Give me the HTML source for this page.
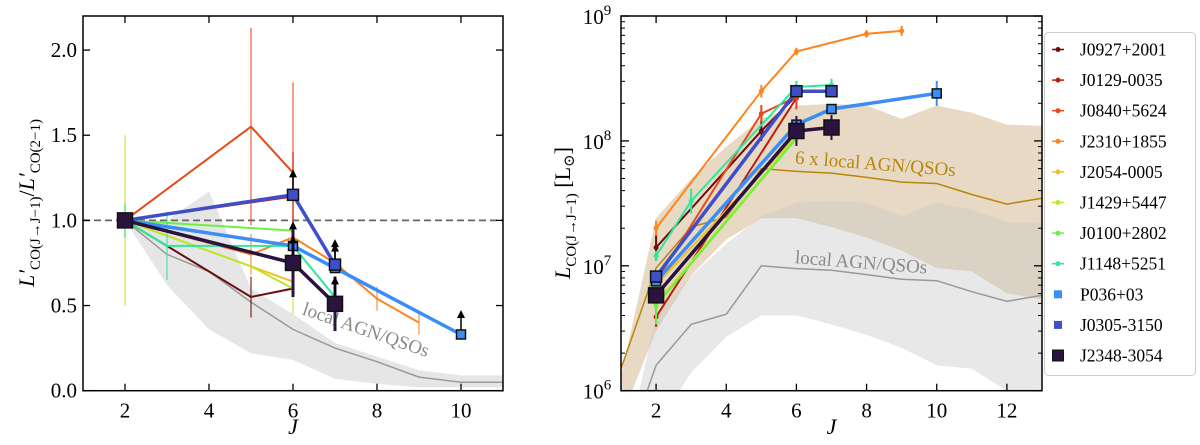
<!DOCTYPE html>
<html><head><meta charset="utf-8">
<style>
html,body{margin:0;padding:0;background:#fff;width:1200px;height:445px;overflow:hidden;}
svg{display:block;}
svg text{font-family:"Liberation Serif","Times New Roman",Times,"DejaVu Serif",serif;}
</style></head>
<body>
<svg id="fig" width="1200" height="445" viewBox="0 0 1200 445" xmlns="http://www.w3.org/2000/svg">
<g id="L"></g>
<g id="R"></g>
<g id="leg"></g>
</svg>
<script>
// ---------- data ----------
const names = ["J0927+2001","J0129-0035","J0840+5624","J2310+1855","J2054-0005","J1429+5447","J0100+2802","J1148+5251","P036+03","J0305-3150","J2348-3054"];
const colors = ["#6b0d0d","#b81e0e","#e8491c","#ff841c","#f2c026","#b8e82c","#6cf043","#2ee89a","#3a8ef5","#3f4fc8","#2b1340"];
const markers = ["dot","dot","dot","dot","dot","dot","dot","dot","sq","sq","sq"];
const msize = [4,4,4,4,4,4,4,4,9,11,15];
const lw = [2,2,2,2,2,2,2,2,3.5,3.5,3.5];

// left panel: ratio data
const ratioJ = [[2,5,6],[2,6],[2,5,6],[2,5,6,7,8,9],[2,6],[2,5,6],[2,6],[2,3,6,7],[2,6,7,10],[2,6,7],[2,6,7]];
const ratioV = [[1,0.55,0.60],[1,1.14],[1,1.55,1.28],[1,0.80,0.90,0.75,0.54,0.40],[1,0.64],[1,0.73,0.60],[1,0.94],[1,0.85,0.85,0.55],[1,0.85,0.72,0.33],[1,1.15,0.74],[1,0.75,0.51]];
const ratioErr = [[0,0.12,0],[0,0.26,0],[0,0.58,0.53],[0,0.12,0.08,0.06,0.07,0.07],[0,0],[0.5,0,0.15],[0,0],[0.1,0.2,0.1,0.05],[0,0,0,0],[0,0,0],[0,0.2,0.16]];
const ratioLim = [[0,0,0],[0,0],[0,0,0],[0,0,0,0,0,0],[0,0],[0,0,0],[0,0],[0,0,0,0],[0,1,1,1],[0,1,1],[0,1,1]];
const bandLJ = [2,3,4,5,6,7,8,9,10,11];
const bandLMid = [1,0.8,0.7,0.52,0.36,0.25,0.17,0.08,0.05,0.05];
const bandLHi = [1,1.0,1.17,0.6,0.45,0.28,0.2,0.12,0.09,0.09];
const bandLLo = [1,0.62,0.36,0.22,0.18,0.07,0.04,0.02,0.02,0.02];

// right panel: luminosities
const lumJ = [[2,5,6],[2,6],[2,5,6],[2,5,6,8,9],[2,6],[2,6],[2,6],[2,3,6,7],[2,6,7,10],[2,6,7],[2,6,7]];
const lumV = [[1.4e7,1.2e8,2.3e8],[3.9e6,2.2e8],[7.5e6,1.65e8,2.25e8],[2.0e7,2.5e8,5.2e8,7.2e8,7.6e8],[7.0e6,1.1e8],[5.0e6,1.08e8],[4.8e6,1.05e8],[1.2e7,3.3e7,2.7e8,2.8e8],[7.5e6,1.35e8,1.8e8,2.4e8],[8.2e6,2.5e8,2.5e8],[5.8e6,1.2e8,1.28e8]];
const lumErr = [[0.1,0.08,0],[0.08,0.08],[0,0.07,0.1],[0.06,0.05,0.03,0.03,0.04],[0,0],[0,0],[0.15,0.05],[0.04,0.1,0.05,0.05],[0,0,0,0.1],[0,0,0],[0,0.12,0.1]];
const localJ = [1,2,3,4,5,6,7,8,9,10,11,12,13];
const localMid = [2.5e5,1.6e6,3.4e6,4.1e6,1.0e7,9.5e6,9.2e6,8.5e6,7.8e6,7.6e6,6.2e6,5.2e6,5.8e6];
const localHi = [2.2e5,4e6,8.3e6,1.5e7,2.5e7,3.2e7,3.3e7,3.2e7,2.5e7,3.2e7,2.8e7,2.25e7,2.2e7];
const localLo = [1e5,5e5,1.4e6,2.7e6,4e6,4e6,3.4e6,2.8e6,2.2e6,1.6e6,1.5e6,1.0e6,0.9e6];
const scale6 = 6;
const xTicksL = [2,4,6,8,10];
const yTicksL = ["0.0","0.5","1.0","1.5","2.0"];
const xTicksR = [2,4,6,8,10,12];

// ---------- helpers ----------
const NS="http://www.w3.org/2000/svg";
function el(tag,attrs,parent,text){const e=document.createElementNS(NS,tag);for(const k in attrs)e.setAttribute(k,attrs[k]);if(text!==undefined)e.textContent=text;parent.appendChild(e);return e;}

const Lx0=83,Lx1=503,Ly0=16,Ly1=390.7;
const lx=j=>Lx0+(j-1)*(Lx1-Lx0)/10;
const ly=v=>Ly1-v*(Ly1-Ly0)/2.2;
const Rx0=621,Rx1=1042,Ry0=16,Ry1=390.7;
const rx=j=>Rx0+(j-1)*(Rx1-Rx0)/12;
const ry=v=>Ry0+(9-Math.log10(v))*(Ry1-Ry0)/3;

const L=document.getElementById('L'), R=document.getElementById('R'), G=document.getElementById('leg');

const defs=el('defs',{},document.getElementById('fig'));
const c1=el('clipPath',{id:'cl'},defs); el('rect',{x:Lx0,y:Ly0,width:Lx1-Lx0,height:Ly1-Ly0},c1);
const c2=el('clipPath',{id:'cr'},defs); el('rect',{x:Rx0,y:Ry0,width:Rx1-Rx0,height:Ry1-Ry0},c2);
const Lp=el('g',{'clip-path':'url(#cl)'},L);


const Rp=el('g',{'clip-path':'url(#cr)'},R);



function poly(xs,ys){return xs.map((x,i)=>x.toFixed(1)+','+ys[i].toFixed(1)).join(' ');}

{
 let pts=bandLJ.map((j,i)=>[lx(j),ly(bandLHi[i])]).concat(bandLJ.slice().reverse().map((j,i)=>[lx(j),ly(bandLLo[bandLJ.length-1-i])]));
 const b=el('polygon',{points:pts.map(p=>p.join(',')).join(' '),fill:'#e6e6e6'},Lp);
 
 
 const m=el('polyline',{points:poly(bandLJ.map(lx),bandLMid.map(ly)),fill:'none',stroke:'#999',"stroke-width":1.5},Lp);
 
 
 const t=el('text',{x:0,y:0,transform:`translate(${lx(6.2)},${ly(0.45)}) rotate(19)`,fill:'#8a8a8a','font-size':19},Lp,'local AGN/QSOs');
 
 
 const d=el('line',{x1:Lx0,x2:Lx1,y1:ly(1),y2:ly(1),stroke:'#666','stroke-width':1.8,'stroke-dasharray':'7,4'},Lp);
 
 
}
{
 const mk=(hi,lo,f,name)=>{
  let pts=localJ.map((j,i)=>rx(j)+','+ry(hi[i])).concat(localJ.slice().reverse().map((j,k)=>{const i=localJ.length-1-k;return rx(j)+','+ry(lo[i]);}));
  const p=el('polygon',{points:pts.join(' '),fill:f},Rp);
  
  
 };
 mk(localHi.map(v=>v*scale6),localLo.map(v=>v*scale6),'rgba(205,170,125,0.45)','six-local-band');
 mk(localHi,localLo,'rgba(200,200,200,0.42)','local-band');
 const m1=el('polyline',{points:poly(localJ.map(rx),localMid.map(v=>ry(v*scale6))),fill:'none',stroke:'#b8860b','stroke-width':1.5},Rp);
 
 
 const m2=el('polyline',{points:poly(localJ.map(rx),localMid.map(ry)),fill:'none',stroke:'#999','stroke-width':1.5},Rp);
 
 
 const t1=el('text',{x:0,y:0,transform:`translate(${rx(5.95)},${ry(6.6e7)}) rotate(4.5)`,fill:'#b8860b','font-size':19},Rp,'6 x local AGN/QSOs');
 
 
 const t2=el('text',{x:0,y:0,transform:`translate(${rx(5.95)},${ry(1.05e7)}) rotate(4.5)`,fill:'#8a8a8a','font-size':19},Rp,'local AGN/QSOs');
 
 
}

function marker(g,x,y,i){
 if(markers[i]==='dot'){
  const c=el('circle',{cx:x,cy:y,r:msize[i]/2+0.5,fill:colors[i]},g);
  
  
 } else {
  const s=msize[i];
  const r=el('rect',{x:x-s/2,y:y-s/2,width:s,height:s,fill:colors[i],stroke:'#111','stroke-width':1.5},g);
  
  
 }
}
function arrow(g,x,y){
 el('line',{x1:x,x2:x,y1:y,y2:y-14,stroke:'#000','stroke-width':1.5},g);
 el('polygon',{points:`${x-4},${y-12} ${x+4},${y-12} ${x},${y-20}`,fill:'#000'},g);
}

for(let i=0;i<names.length;i++){
 const g=el('g',{},Lp);
 
 
 const J=ratioJ[i],V=ratioV[i];
 el('polyline',{points:poly(J.map(lx),V.map(ly)),fill:'none',stroke:colors[i],'stroke-width':lw[i]},g);
 J.forEach((j,k)=>{
  const e=ratioErr[i][k];
  if(e>0) el('line',{x1:lx(j),x2:lx(j),y1:ly(V[k]-e),y2:ly(V[k]+e),stroke:colors[i],'stroke-width':markers[i]==='sq'?3:1.5,opacity:markers[i]==='sq'?1:0.7},g);
  if(ratioLim[i][k]) arrow(g,lx(j),ly(V[k])-(markers[i]==='sq'?msize[i]/2:0));
  if(markers[i]==='sq') marker(g,lx(j),ly(V[k]),i);
 });
}
for(let i=0;i<names.length;i++){
 const g=el('g',{},Rp);
 
 
 const J=lumJ[i],V=lumV[i];
 el('polyline',{points:poly(J.map(rx),V.map(ry)),fill:'none',stroke:colors[i],'stroke-width':lw[i]},g);
 J.forEach((j,k)=>{
  const e=lumErr[i][k];
  if(e>0) el('line',{x1:rx(j),x2:rx(j),y1:ry(V[k]*Math.pow(10,-e)),y2:ry(V[k]*Math.pow(10,e)),stroke:colors[i],'stroke-width':2},g);
  marker(g,rx(j),ry(V[k]),i);
 });
}

function frame(g,x0,y0,x1,y1){el('rect',{x:x0,y:y0,width:x1-x0,height:y1-y0,fill:'none',stroke:'#000','stroke-width':1.5},g);}
frame(L,Lx0,Ly0,Lx1,Ly1); frame(R,Rx0,Ry0,Rx1,Ry1);
xTicksL.forEach(j=>{const x=lx(j);
 el('line',{x1:x,x2:x,y1:Ly1,y2:Ly1-7,stroke:'#000','stroke-width':1.3},L);
 el('line',{x1:x,x2:x,y1:Ly0,y2:Ly0+7,stroke:'#000','stroke-width':1.3},L);
 const t=el('text',{x:x,y:Ly1+27,'text-anchor':'middle','font-size':21},L,String(j));
 
 });
yTicksL.forEach(s=>{const y=ly(parseFloat(s));
 el('line',{x1:Lx0,x2:Lx0+7,y1:y,y2:y,stroke:'#000','stroke-width':1.3},L);
 el('line',{x1:Lx1,x2:Lx1-7,y1:y,y2:y,stroke:'#000','stroke-width':1.3},L);
 const t=el('text',{x:Lx0-6,y:y+7,'text-anchor':'end','font-size':21},L,s);
 
 });
xTicksR.forEach(j=>{const x=rx(j);
 el('line',{x1:x,x2:x,y1:Ry1,y2:Ry1-7,stroke:'#000','stroke-width':1.3},R);
 el('line',{x1:x,x2:x,y1:Ry0,y2:Ry0+7,stroke:'#000','stroke-width':1.3},R);
 const t=el('text',{x:x,y:Ry1+27,'text-anchor':'middle','font-size':21},R,String(j));
 
 });
for(let d=6;d<=9;d++){
 const y=ry(Math.pow(10,d));
 el('line',{x1:Rx0,x2:Rx0+8,y1:y,y2:y,stroke:'#000','stroke-width':1.3},R);
 el('line',{x1:Rx1,x2:Rx1-8,y1:y,y2:y,stroke:'#000','stroke-width':1.3},R);
 const t=el('text',{x:Rx0-24,y:y+8,'text-anchor':'middle','font-size':21},R,'10');
 el('tspan',{dy:-9,'font-size':15},t,String(d));
 
 
 if(d<9) for(let m=2;m<=9;m++){const yy=ry(m*Math.pow(10,d));
  el('line',{x1:Rx0,x2:Rx0+4,y1:yy,y2:yy,stroke:'#000','stroke-width':1},R);
  el('line',{x1:Rx1,x2:Rx1-4,y1:yy,y2:yy,stroke:'#000','stroke-width':1},R);}
}
{
 const a=el('text',{x:lx(6),y:434,'text-anchor':'middle','font-size':22,'font-style':'italic'},L,'J');
 
 
 const b=el('text',{x:rx(7),y:434,'text-anchor':'middle','font-size':22,'font-style':'italic'},R,'J');
 
 
 const yl=el('text',{transform:'translate(34,203) rotate(-90)','text-anchor':'middle','font-size':22},L);
 
 
 el('tspan',{'font-style':'italic'},yl,'L′');
 el('tspan',{dy:6,'font-size':15},yl,'CO(J→J−1)');
 el('tspan',{dy:-6},yl,'/');
 el('tspan',{'font-style':'italic'},yl,'L′');
 el('tspan',{dy:6,'font-size':15},yl,'CO(2−1)');
 const yr=el('text',{transform:'translate(570,213) rotate(-90)','text-anchor':'middle','font-size':22},R);
 
 
 el('tspan',{'font-style':'italic'},yr,'L');
 el('tspan',{dy:6,'font-size':15},yr,'CO(J→J−1)');
 el('tspan',{dy:-6},yr,' [L');
 el('tspan',{dy:4,'font-size':15},yr,'⊙');
 el('tspan',{dy:-4},yr,']');
}
{
 el('rect',{x:1044.5,y:32.5,width:151,height:343,rx:4,fill:'#fff',stroke:'#ccc','stroke-width':1},G);
 names.forEach((n,i)=>{
  const y=49.5+i*30.6;
  const g=el('g',{},G);
  
  
  if(markers[i]==='dot'){
   el('line',{x1:1052,x2:1064,y1:y,y2:y,stroke:colors[i],'stroke-width':1.5},g);
   el('circle',{cx:1058,cy:y,r:2.5,fill:colors[i]},g);
  } else {
   const s=i===10?11:8;
   el('rect',{x:1058-s/2,y:y-s/2,width:s,height:s,fill:colors[i],stroke:i===10?'#111':'none','stroke-width':1},g);
  }
  el('text',{x:1080,y:y+6,'font-size':17.5},g,n);
 });
}
</script>
</body></html>
